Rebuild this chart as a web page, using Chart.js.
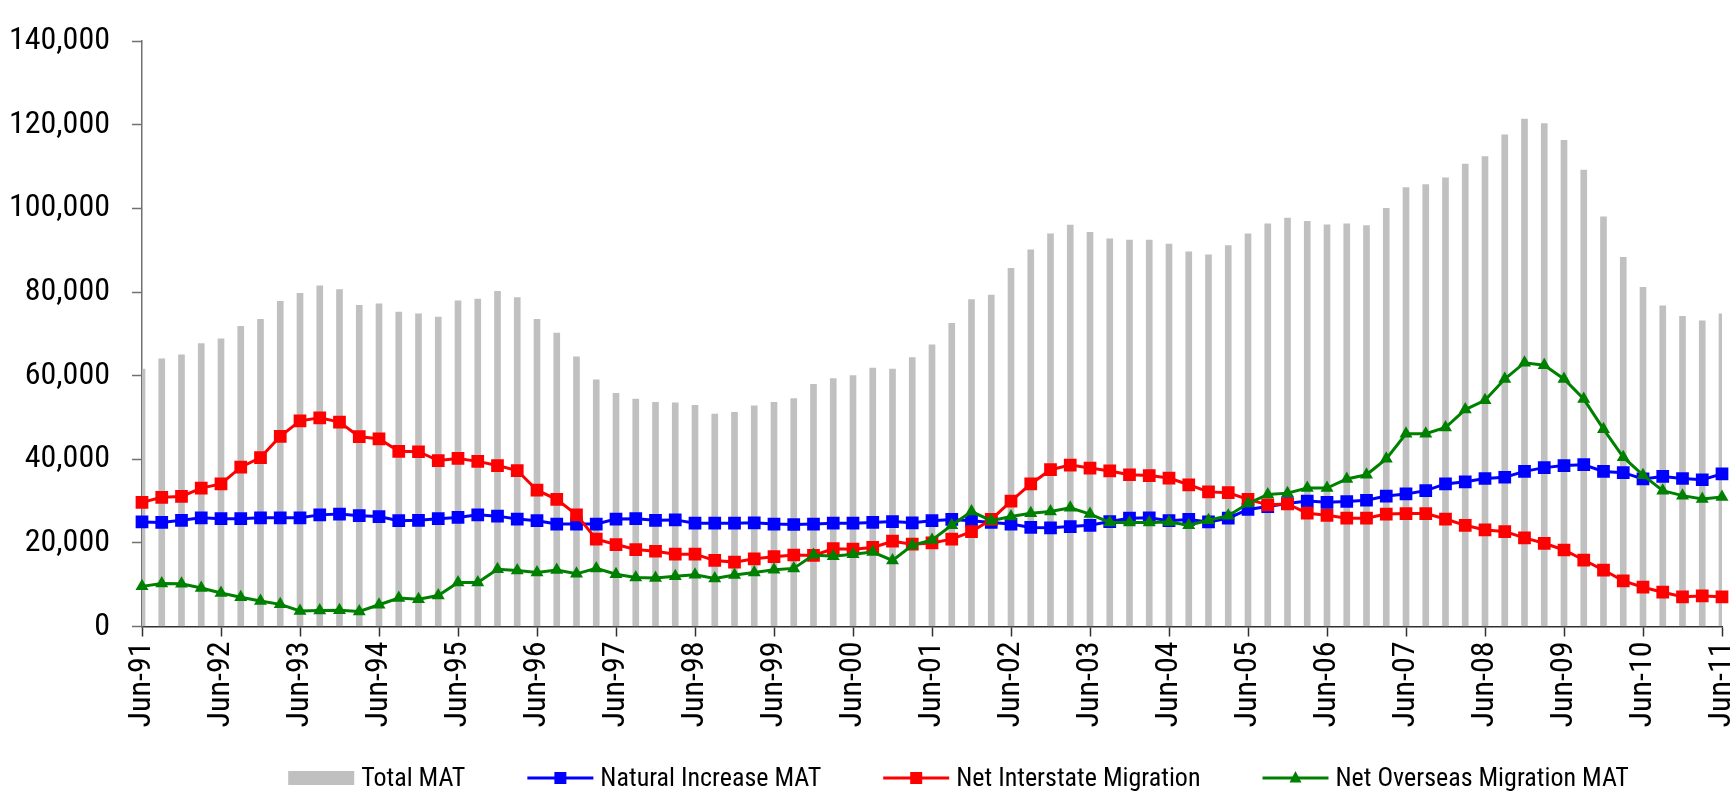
<!DOCTYPE html>
<html>
<head>
<meta charset="utf-8">
<script src="https://cdn.jsdelivr.net/npm/chart.js@4.4.1/dist/chart.umd.min.js"></script>
<style>
  html, body { margin: 0; padding: 0; background: #ffffff; }
  #wrap { width: 1736px; height: 791px; position: relative; }
</style>
</head>
<body>
<div id="wrap"><canvas id="c" width="1736" height="791"></canvas></div>
<script>
// ---- Data (quarterly, moving annual totals) ----
const quarters = [
  "Jun-91","Sep-91","Dec-91","Mar-92",
  "Jun-92","Sep-92","Dec-92","Mar-93",
  "Jun-93","Sep-93","Dec-93","Mar-94",
  "Jun-94","Sep-94","Dec-94","Mar-95",
  "Jun-95","Sep-95","Dec-95","Mar-96",
  "Jun-96","Sep-96","Dec-96","Mar-97",
  "Jun-97","Sep-97","Dec-97","Mar-98",
  "Jun-98","Sep-98","Dec-98","Mar-99",
  "Jun-99","Sep-99","Dec-99","Mar-00",
  "Jun-00","Sep-00","Dec-00","Mar-01",
  "Jun-01","Sep-01","Dec-01","Mar-02",
  "Jun-02","Sep-02","Dec-02","Mar-03",
  "Jun-03","Sep-03","Dec-03","Mar-04",
  "Jun-04","Sep-04","Dec-04","Mar-05",
  "Jun-05","Sep-05","Dec-05","Mar-06",
  "Jun-06","Sep-06","Dec-06","Mar-07",
  "Jun-07","Sep-07","Dec-07","Mar-08",
  "Jun-08","Sep-08","Dec-08","Mar-09",
  "Jun-09","Sep-09","Dec-09","Mar-10",
  "Jun-10","Sep-10","Dec-10","Mar-11",
  "Jun-11"
];

const totalMAT = [
  61600,64000,65000,67700,68800,71800,73500,77800,79700,81500,80600,76800,77200,75200,74800,
  74000,77900,78300,80200,78700,73500,70200,64500,59000,55800,54400,53600,53500,52900,
  50800,51200,52800,53600,54500,57900,59300,60000,61800,61600,64300,67400,72500,78200,
  79300,85700,90100,93900,96000,94300,92700,92400,92400,91500,89600,88900,91100,93900,
  96300,97700,96900,96100,96300,95900,100000,105000,105700,107300,110600,112400,117600,121400,
  120300,116300,109200,98000,88300,81100,76700,74200,73100,74800
];

const naturalIncrease = [
  25000,24900,25400,26000,25800,25800,26000,26000,26000,26700,26900,26500,26300,25300,25400,
  25800,26100,26700,26400,25700,25300,24500,24500,24500,25700,25800,25400,25500,24700,
  24700,24700,24800,24500,24400,24500,24700,24700,24900,25100,24800,25300,25600,25300,
  24900,24500,23700,23600,23900,24200,25100,25900,26000,25300,25600,25000,25900,28000,
  28700,29400,30000,29700,29900,30200,31200,31700,32500,34100,34600,35400,35700,37100,
  38000,38500,38700,37100,36800,35300,35900,35400,35100,36500
];

const netInterstate = [
  29700,30900,31100,33100,34100,38100,40400,45500,49200,49900,48900,45400,44900,41900,41800,
  39700,40200,39500,38500,37300,32600,30400,26700,20900,19600,18400,18000,17300,17300,
  15800,15400,16200,16700,17100,17000,18600,18500,18900,20400,19700,20000,20900,22700,
  25600,30000,34100,37500,38600,37900,37200,36300,36100,35500,33900,32200,32000,30400,
  29100,29300,27100,26600,25900,25900,26900,27000,27000,25700,24200,23100,22700,21200,
  19900,18300,15900,13500,10900,9400,8200,7100,7300,7100
];

const netOverseas = [
  9600,10300,10200,9200,8000,7000,6100,5300,3700,3800,3900,3600,5200,6800,6500,
  7400,10500,10500,13700,13400,12900,13500,12600,13900,12500,11700,11600,12000,12400,
  11500,12300,12900,13600,13900,17100,16800,17300,17800,15800,19400,20700,24200,27500,
  25300,26300,27100,27500,28400,26900,24900,24900,24900,25000,24200,25400,26500,29400,
  31600,31900,33100,33100,35300,36300,40100,46100,46100,47600,51900,54100,59200,63100,
  62500,59200,54400,47200,40500,36200,32500,31300,30500,31000
];

const seriesNames = ["Total MAT","Natural Increase MAT","Net Interstate Migration","Net Overseas Migration MAT"];
const yTicks = [0,20000,40000,60000,80000,100000,120000,140000];

// ---- Styling ----
const FONT = "'Roboto Condensed','Liberation Sans',sans-serif";
const W = 1736, H = 791;
const PLOT_LEFT = 142, PLOT_RIGHT = 1722, PLOT_TOP = 25.5, PLOT_BOTTOM = 626.5;

function drawMarker(ctx, style, x, y, color) {
  ctx.fillStyle = color;
  ctx.beginPath();
  if (style === 'rect') {
    ctx.rect(x - 6, y - 6, 12, 12);
  } else {
    ctx.moveTo(x, y - 7);
    ctx.lineTo(x + 6, y + 4.5);
    ctx.lineTo(x - 6, y + 4.5);
    ctx.closePath();
  }
  ctx.fill();
}

const refLegend = {
  id: 'refLegend',
  afterDraw(chart) {
    const ctx = chart.ctx;
    const ds = chart.data.datasets.slice().sort((a, b) => a.legendIndex - b.legendIndex);
    ctx.save();
    ctx.font = "26px " + FONT;
    const sw = 66, gapText = 7, gapItem = 62;
    const widths = ds.map(d => ctx.measureText(d.label).width);
    let total = 0;
    widths.forEach(w => total += sw + gapText + w);
    total += gapItem * (ds.length - 1);
    let x = 958.5 - total / 2;
    const y = 778;
    ds.forEach((d, i) => {
      if (d.type === 'bar') {
        ctx.fillStyle = d.backgroundColor;
        ctx.fillRect(x, y - 7, sw, 14);
      } else {
        ctx.strokeStyle = d.borderColor;
        ctx.lineWidth = 3;
        ctx.beginPath();
        ctx.moveTo(x, y);
        ctx.lineTo(x + sw, y);
        ctx.stroke();
        drawMarker(ctx, d.pointStyle, x + sw / 2, y, d.borderColor);
      }
      ctx.fillStyle = '#000000';
      ctx.textBaseline = 'middle';
      ctx.textAlign = 'left';
      ctx.fillText(d.label, x + sw + gapText, y + 1);
      x += sw + gapText + widths[i] + gapItem;
    });
    ctx.restore();
  }
};

Chart.defaults.font.family = FONT;
Chart.defaults.color = '#000000';

new Chart(document.getElementById('c'), {
  type: 'bar',
  data: {
    labels: quarters,
    datasets: [
      {
        type: 'bar', label: seriesNames[0], data: totalMAT, legendIndex: 0,
        backgroundColor: '#C0C0C0', borderWidth: 0, barThickness: 6, order: 4
      },
      {
        type: 'line', label: seriesNames[1], data: naturalIncrease, legendIndex: 1,
        borderColor: '#0000FF', backgroundColor: '#0000FF', borderWidth: 3,
        pointStyle: 'rect', pointRadius: 9, pointBorderWidth: 0,
        pointBackgroundColor: '#0000FF', tension: 0, order: 3
      },
      {
        type: 'line', label: seriesNames[2], data: netInterstate, legendIndex: 2,
        borderColor: '#FF0000', backgroundColor: '#FF0000', borderWidth: 3,
        pointStyle: 'rect', pointRadius: 9, pointBorderWidth: 0,
        pointBackgroundColor: '#FF0000', tension: 0, order: 2
      },
      {
        type: 'line', label: seriesNames[3], data: netOverseas, legendIndex: 3,
        borderColor: '#008000', backgroundColor: '#008000', borderWidth: 3,
        pointStyle: 'triangle', pointRadius: 7.5, pointBorderWidth: 0,
        pointBackgroundColor: '#008000', tension: 0, order: 1
      }
    ]
  },
  options: {
    responsive: false,
    animation: false,
    events: [],
    layout: { padding: { top: PLOT_TOP, right: W - PLOT_RIGHT, bottom: 0, left: 0 } },
    plugins: {
      legend: { display: false },
      tooltip: { enabled: false },
      title: { display: false }
    },
    scales: {
      x: {
        type: 'category',
        offset: false,
        grid: {
          offset: false, drawOnChartArea: false, drawTicks: true,
          tickLength: 10, tickColor: '#303030', tickWidth: 1.5
        },
        border: { display: true, color: '#303030', width: 1.5 },
        ticks: {
          autoSkip: false, maxRotation: 90, minRotation: 90, padding: 5,
          font: { size: 32, family: FONT }, color: '#000000'
        },
        afterBuildTicks(scale) {
          scale.ticks = scale.ticks.filter(t => t.value % 4 === 0);
        },
        afterFit(scale) {
          scale.height = H - PLOT_BOTTOM;
          scale.paddingRight = W - PLOT_RIGHT;
          scale.paddingLeft = 0;
        }
      },
      y: {
        type: 'linear',
        min: 0, max: 140000,
        afterBuildTicks(scale) {
          scale.ticks = yTicks.map(v => ({ value: v }));
        },
        grid: {
          drawOnChartArea: false, drawTicks: true,
          tickLength: 10, tickColor: '#707070', tickWidth: 1.5
        },
        border: { display: true, color: '#707070', width: 1.5 },
        ticks: {
          padding: 22,
          font: { size: 32, family: FONT }, color: '#000000',
          callback: (v) => Number(v).toLocaleString('en-US')
        },
        afterFit(scale) {
          scale.width = PLOT_LEFT;
        }
      }
    }
  },
  plugins: [refLegend]
});
</script>
</body>
</html>
